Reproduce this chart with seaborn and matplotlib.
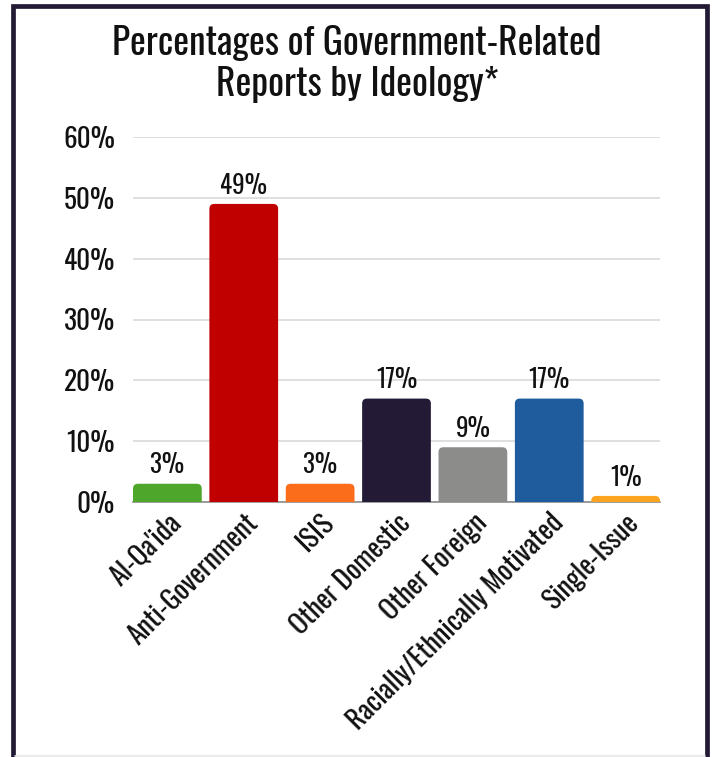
import matplotlib
matplotlib.use("Agg")
import matplotlib.pyplot as plt
from matplotlib.patches import FancyBboxPatch, Rectangle
from matplotlib.lines import Line2D
import seaborn as sns
import pandas as pd

ideologies = ["Al-Qa'ida", "Anti-Government", "ISIS", "Other Domestic",
              "Other Foreign", "Racially/Ethnically Motivated", "Single-Issue"]
percentages = [3, 49, 3, 17, 9, 17, 1]
bar_colors = ["#4ea72a", "#c00000", "#fb6d1a", "#231b35",
              "#8c8c8a", "#1f5c9e", "#fca320"]
y_ticks = [0, 10, 20, 30, 40, 50, 60]
title_text = "Percentages of Government-Related\nReports by Ideology*"

sns.set_theme(style="white")
plt.rcParams["font.family"] = ["Oswald", "DejaVu Sans"]

df = pd.DataFrame({"ideology": ideologies, "pct": percentages})

W, H = 714, 757
fig = plt.figure(figsize=(W / 100, H / 100), dpi=100)
fig.patch.set_facecolor("white")

# dark frame around the graphic (open at the bottom edge)
frame_color = "#231b35"
fig.add_artist(Rectangle((13 / W, -0.05), (707 - 13) / W, (H - 5.5) / H + 0.05,
                         transform=fig.transFigure, fill=False,
                         edgecolor=frame_color, linewidth=3.4))
fig.add_artist(Line2D([15 / W, 705 / W], [0.6 / H, 0.6 / H],
                      transform=fig.transFigure, color="#e6e6e6", linewidth=1.2))

n = len(ideologies)
ax = fig.add_axes([133 / W, (H - 502) / H, (660 - 133) / W, (502 - 137) / H])
sns.barplot(data=df, x="ideology", y="pct", hue="ideology", palette=bar_colors,
            legend=False, width=0.9, ax=ax, saturation=1)

ax.set_ylim(0, 60)
ax.set_xlim(-0.45, n - 0.55)

# replace square bars with top-rounded ones
r, asp = 0.065, 12.5
clip = Rectangle((-0.5, 0), n, 70, transform=ax.transData)
for p in list(ax.patches):
    x0, w, h = p.get_x(), p.get_width(), p.get_height()
    color = p.get_facecolor()
    p.set_visible(False)
    fb = FancyBboxPatch((x0 + r, -3), w - 2 * r, h + 3 - r * asp,
                        boxstyle=f"round,pad={r},rounding_size={r}",
                        mutation_aspect=asp, facecolor=color,
                        edgecolor="none", zorder=3)
    fb.set_clip_path(clip)
    ax.add_patch(fb)

for i, v in enumerate(percentages):
    ax.annotate(f"{v}%", (i, v), xytext=(0, 7.5), textcoords="offset points",
                ha="center", va="baseline", fontsize=18, color="#111111", zorder=4)

ax.set_yticks(y_ticks)
ax.set_yticklabels([f"{t}%" for t in y_ticks], fontsize=19.5, color="#111111")
ax.tick_params(axis="y", length=0, pad=13)
ax.tick_params(axis="x", length=0, pad=5)
ax.set_xticks(range(n))
ax.set_xticklabels(ideologies, rotation=45, ha="right", rotation_mode="anchor",
                   fontsize=20, color="#111111")

ax.yaxis.grid(True, color="#d9d9d9", linewidth=1.2)
ax.set_axisbelow(True)
for s in ["top", "right", "left"]:
    ax.spines[s].set_visible(False)
ax.spines["bottom"].set_color("#8c8c8c")
ax.spines["bottom"].set_linewidth(1.2)
ax.spines["bottom"].set_zorder(2.5)
ax.set_xlabel("")
ax.set_ylabel("")

fig.text(357 / W, 1 - 64 / H, title_text, ha="center", va="center",
         fontsize=27, color="#111111", linespacing=1.13)

fig.savefig("out.png", dpi=100, facecolor="white")
